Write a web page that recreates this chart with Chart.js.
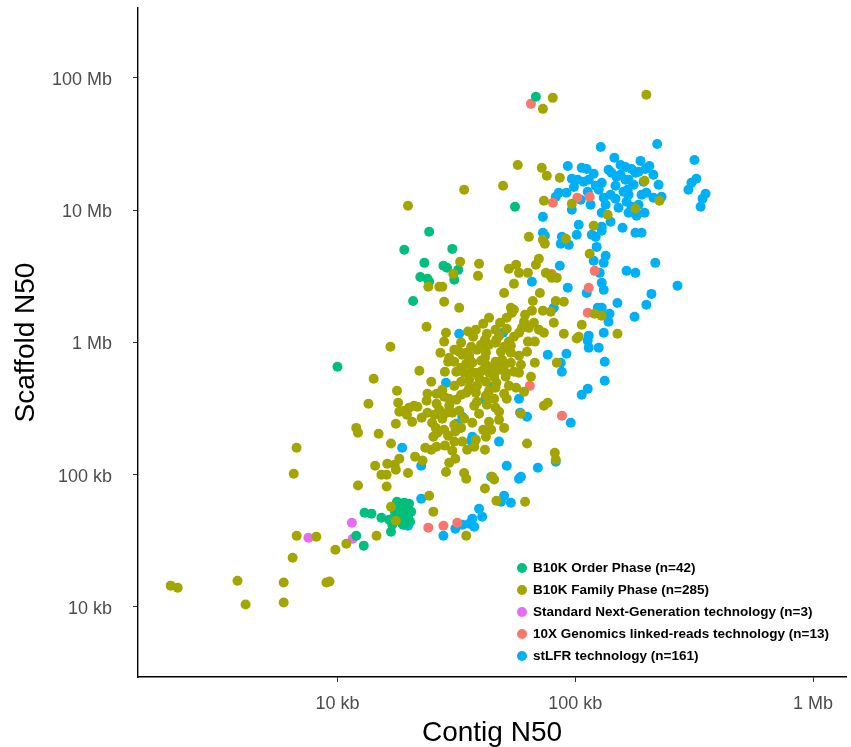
<!DOCTYPE html>
<html>
<head>
<meta charset="utf-8">
<script src="https://cdn.jsdelivr.net/npm/chart.js@4.4.1/dist/chart.umd.min.js"></script>
<style>
  html, body { margin: 0; padding: 0; background: #fff; }
  canvas { display: block; }
</style>
</head>
<body>
<canvas id="c" width="851" height="747"></canvas>
<script>
// ---- Data (Contig N50 / Scaffold N50 in kb) ----
const seriesLabels = [
  'B10K Order Phase (n=42)',
  'B10K Family Phase (n=285)',
  'Standard Next-Generation technology (n=3)',
  '10X Genomics linked-reads technology (n=13)',
  'stLFR technology (n=161)'
];

const orderX = [68.3,55.8,24.3,19.1,30.4,23.2,27.9,28.9,32.2,22.3,
  23.9,24.3,31.0,20.8,10.0,13.0,13.9,15.3,16.5,16.8,
  17.8,19.1,20.0,18.2,18.7,18.6,19.8,17.3,19.6,12.0,
  12.9,17.6,18.9,20.4,18.0,19.4,18.2,20.2,17.0,18.9,
  17.4,19.6];
const orderY = [72000,10620,6870,5020,5100,4000,3800,3670,3540,3130,
  3030,2880,2980,2060,655,51.6,50.8,47.3,45.7,37.1,
  62.5,61.4,60.4,54.4,51.6,43.4,47.3,47.3,43.4,34.6,
  29.1,57.3,57.3,52.6,49.9,49.1,45.7,44.1,41.9,41.9,
  53.5,54.4];

const familyX = [80.4,73.1,199,57.3,49.7,34.1,19.8,72.3,75.9,86.1,
  195.5,96.7,73.8,226,179,136.8,63.8,73.1,74.5,91.3,
  119.5,115,68.3,70.3,63.2,75.2,78.2,79.7,83.6,58,
  71,66.3,82.8,89.5,65.7,73.1,78.9,61.5,120.7,129,
  67,81.2,60.9,106.5,59.7,63.8,70.3,73.8,89.5,103.4,
  101.4,150.4,63.2,67.6,62.7,59.1,67.6,83.6,65.1,73.8,
  76.6,59.1,62.7,82,82.8,61.5,32.8,30.7,39.4,39,
  24.1,26.8,27.6,28.1,32.5,50.2,55.2,52.6,56.4,53.6,
  55.2,54.2,23.7,41,48.3,46.2,51.5,28.6,28.1,33.1,
  35.4,37.2,16.7,55.2,58,52.6,46.2,43.4,40.2,36.5,
  46.6,27.1,33.5,34.8,38.6,42.1,48.7,53.6,22.1,29.2,
  31,33.1,34.8,36.9,40.2,42.1,46.2,49.2,53.6,28.3,
  31.6,34.1,38.2,40.6,43.4,47.8,51,55.2,58,14.2,
  24.8,33.1,35.8,39.4,42.1,46.6,46.2,51,56.4,17.8,
  23.9,26.1,28.1,29.5,31.6,34.8,35.8,38.2,23.7,18,
  13.5,21,20,21.7,19.1,18.2,23.9,25.6,28.9,30.4,
  32.5,38.6,45.6,50.2,51.5,46.2,47.8,27.6,47.8,19.6,
  20.6,17.6,25,25.9,36.9,25.3,26.3,29.2,31.3,41,
  42.1,38.2,33.5,12,12.2,14.9,16.8,23.4,24.8,26.1,
  28.3,30.4,37.6,21.2,22.8,31.3,29.5,18.2,17.4,16.2,
  14.4,28.6,19.8,15.3,16.1,34.1,44.7,17.6,34.8,45.6,
  12.2,16.1,41.7,24.3,16.8,25.3,46.6,17.6,34.8,14.6,
  10.9,9.8,9.26,6.55,6.74,8.15,6.48,1.99,2.13,3.8,
  5.94,8.99,4.11,5.94,6.73,
  31,35.8,41.7,44.3,50.2,38.6,43.4,31,27.6,52.6,
  33.1,42.1,37.6,42.5,29.5,26.8,34.1,31,39.4,43.4,
  28.1,33.1,44.3,50.2,31,35.1,41.7,53.6,58,50.2,
  41.7,38.2,43.4,51.5,47.8,42.5,32.5,29.5,36.5,45.6,
  60.9,26.1,22.6];
const familyY = [70700,58400,74600,22000,15300,14300,10800,20900,18200,17600,
  16700,11200,11800,11800,10300,9230,6290,5970,5570,6080,
  7620,4680,3870,4290,3360,3360,3250,3080,3080,3360,
  2370,2060,2060,2030,1740,1740,1710,1620,1650,1595,
  1410,1410,1435,1360,1290,1290,1250,1185,1165,1105,
  1070,1165,1015,1015,850,679,702,702,550,332,
  350,289,172,146.6,130,62.5,4080,3300,3940,3190,
  2640,2640,2640,2030,1830,2370,2780,3610,3870,1830,
  1770,1680,1315,1385,1410,1250,1270,1185,1015,997,
  1210,1105,929,1105,1185,1015,997,963,963,929,
  1050,835,807,835,880,835,850,835,611,715,
  715,644,690,702,727,679,715,740,702,601,
  601,590,590,611,590,622,590,601,590,532,
  504,504,522,541,504,495,454,550,454,432,
  410,410,389,375,369,417,454,417,363,350,
  344,332,321,327,305,300,294,284,294,294,
  305,356,375,410,375,321,300,265,260,284,
  251,243,247,226,247,194,208,197,212,219,
  194,184,178,226,208,204,172,160,154.5,163,
  166,152,163,137,128,132,123,132,119,121,
  117,105,103,100,100,103,96.5,109,93.2,92,
  82.9,81.4,78.7,69.4,57.3,52.6,63.6,44.9,34.6,34.6,
  30.1,27.1,15.6,101.7,34.6,34,23.6,14.5,14,15.8,
  15.3,15.3,10.45,10.8,160,
  880,793,766,644,667,470,432,470,439,470,
  403,397,332,338,332,310,265,238,289,251,
  219,226,219,226,178,154.5,154.5,946,793,929,
  1050,1250,1540,1540,1126,1165,850,766,601,550,
  424,344,270];

const ngsX = [11.5,11.6,7.55];
const ngsY = [43.4,32.8,33.4];

const tenxX = [65.1,80.5,102,115,120.7,113.9,112.8,79.7,64.4,87.9,24.1,27.9,31.9];
const tenxY = [63700,11390,12440,12660,3480,2590,1680,3300,470,279,39.8,41.2,43.4];

const stlfrX = [128,221,317,93,106.4,111.7,119.5,96.7,102.4,98.7,
  146,155,162.6,172.4,188,205,197.4,142,149,162.6,
  179,184.5,129.2,121.9,125.5,112.8,147.6,167.5,166,85.3,
  91.8,82.8,105.4,96.7,131.7,134.2,147.6,167.5,164.3,190,
  199,213,230.6,172.4,195.5,129.2,167.5,181,73.1,299,
  307.8,323,353,343,336.4,179,73.1,74.5,87.8,86.9,
  101.4,117.3,121.9,129.2,129.2,179,190,123,119.5,134.2,
  131.7,217,164.3,179,126.7,129.2,131.7,111.7,93,269,
  209,199,150.4,86.1,65.7,81.2,124.3,129.2,139.3,138,
  177.5,113.9,131.7,112.8,125.5,113.9,76.6,91.8,133,
  86.9,87.8,133,112.8,106.4,58,62.7,95.7,82.8,69.6,
  59.1,49.7,32.5,28.6,44.7,41.7,33.5,58.6,31.6,36.9,
  36.5,47.8,18.7,22.5,51.5,44.3,58,22.5,50.2,48.7,
  53.6,39.4,40.6,36.9,35.8,37.6,33.5,31.3,27.9,19.8,
  138,155,175.9,193.6,140.7,152,213,108.5,184.5,116,
  159.5,224,113.9,140.7,158,103.4,93.9];
const stlfrY = [30100,31700,24000,21600,20900,20500,18850,17300,17000,15000,
  24900,22000,21200,20500,23600,21600,20500,19200,17900,17000,
  19200,19500,16100,15300,14300,13800,15300,17000,14300,13570,
  13570,12660,12000,10070,12440,11000,12230,13100,11600,13100,
  13570,12440,12660,10620,9560,9560,9560,9070,8910,14300,
  16100,17300,13340,12230,10620,9730,6750,6410,6290,5570,
  6520,6520,6290,7490,6990,6750,6750,5280,4150,4520,
  4000,4000,3480,3360,3360,2830,2500,2370,2590,2690,
  2330,1930,1990,3800,2880,1830,1830,1830,1650,1435,
  1565,1126,1185,1032,914,914,807,821,715,
  702,601,513,446,403,375,274,247,125.6,113,
  96.5,1185,1165,495,462,369,274,294,243,194,
  181,178,160,117,117,96.5,93.2,65.8,69.4,62.5,
  61.4,55.3,48.1,46.5,42.6,40.4,41.9,39.1,34.6,41.2,
  20200,18520,15590,16420,13100,10440,18520,16420,11000,11000,
  13800,15590,17000,8170,7360,7760,5470];

const xTickValues = [10, 100, 1000];
const xTickLabels = ['10 kb', '100 kb', '1 Mb'];
const yTickValues = [10, 100, 1000, 10000, 100000];
const yTickLabels = ['10 kb', '100 kb', '1 Mb', '10 Mb', '100 Mb'];

const colors = ['#00BF7D', '#A3A500', '#E76BF3', '#F8766D', '#00B0F6'];

// ---- Build ----
function pts(xs, ys) { return xs.map((x, i) => ({ x: x, y: ys[i] })); }

const FONT = '"Liberation Sans", Arial, sans-serif';

// draw order: first dataset is painted last (on top)
const datasets = [
  { label: seriesLabels[1], data: pts(familyX, familyY), backgroundColor: colors[1], borderColor: colors[1] },
  { label: seriesLabels[0], data: pts(orderX, orderY), backgroundColor: colors[0], borderColor: colors[0] },
  { label: seriesLabels[2], data: pts(ngsX, ngsY), backgroundColor: colors[2], borderColor: colors[2] },
  { label: seriesLabels[3], data: pts(tenxX, tenxY), backgroundColor: colors[3], borderColor: colors[3] },
  { label: seriesLabels[4], data: pts(stlfrX, stlfrY), backgroundColor: colors[4], borderColor: colors[4] }
];

const legendPlugin = {
  id: 'insideLegend',
  afterDraw(chart) {
    const ctx = chart.ctx;
    const mx = 522, y0 = 568, step = 22;
    ctx.save();
    ctx.font = 'bold 13.5px ' + FONT;
    ctx.textBaseline = 'middle';
    ctx.textAlign = 'left';
    seriesLabels.forEach((lab, i) => {
      const y = y0 + i * step;
      ctx.beginPath();
      ctx.fillStyle = colors[i];
      ctx.arc(mx, y, 5, 0, Math.PI * 2);
      ctx.fill();
      ctx.fillStyle = '#000';
      ctx.fillText(lab, mx + 11, y + 0.5);
    });
    ctx.restore();
  }
};

function noPad(s) { s.paddingTop = 0; s.paddingBottom = 0; s.paddingLeft = 0; s.paddingRight = 0; }

new Chart(document.getElementById('c'), {
  type: 'scatter',
  data: { datasets },
  plugins: [legendPlugin],
  options: {
    responsive: false,
    animation: false,
    devicePixelRatio: 1,
    layout: { padding: { left: 0, right: 3, top: 8, bottom: 0 } },
    elements: { point: { radius: 5, hoverRadius: 5, borderWidth: 0 } },
    plugins: { legend: { display: false }, tooltip: { enabled: false } },
    scales: {
      x: {
        type: 'logarithmic',
        min: 1.45, max: 1375,
        afterBuildTicks: (s) => { s.ticks = xTickValues.map(v => ({ value: v })); },
        afterFit: (s) => { s.height = 70; noPad(s); },
        ticks: {
          callback: (v) => xTickLabels[xTickValues.indexOf(v)],
          font: { size: 18, family: FONT }, color: '#4D4D4D', padding: 11,
          maxRotation: 0, autoSkip: false
        },
        grid: { drawOnChartArea: false, drawTicks: true, tickLength: 5, color: '#333333', lineWidth: 1 },
        border: { display: true, color: '#000', width: 1.4 },
        title: { display: true, text: 'Contig N50', font: { size: 28, family: FONT }, color: '#000', padding: { top: 0, bottom: -3 } }
      },
      y: {
        type: 'logarithmic',
        min: 2.956, max: 338000,
        afterBuildTicks: (s) => { s.ticks = yTickValues.map(v => ({ value: v })); },
        afterFit: (s) => { s.width = 138; noPad(s); },
        ticks: {
          callback: (v) => yTickLabels[yTickValues.indexOf(v)],
          font: { size: 18, family: FONT }, color: '#4D4D4D', padding: 21,
          labelOffset: 2, autoSkip: false
        },
        grid: { drawOnChartArea: false, drawTicks: true, tickLength: 5, color: '#333333', lineWidth: 1 },
        border: { display: true, color: '#000', width: 1.4 },
        title: { display: true, text: 'Scaffold N50', font: { size: 28, family: FONT }, color: '#000', padding: { top: 9, bottom: 0 } }
      }
    }
  }
});
</script>
</body>
</html>
